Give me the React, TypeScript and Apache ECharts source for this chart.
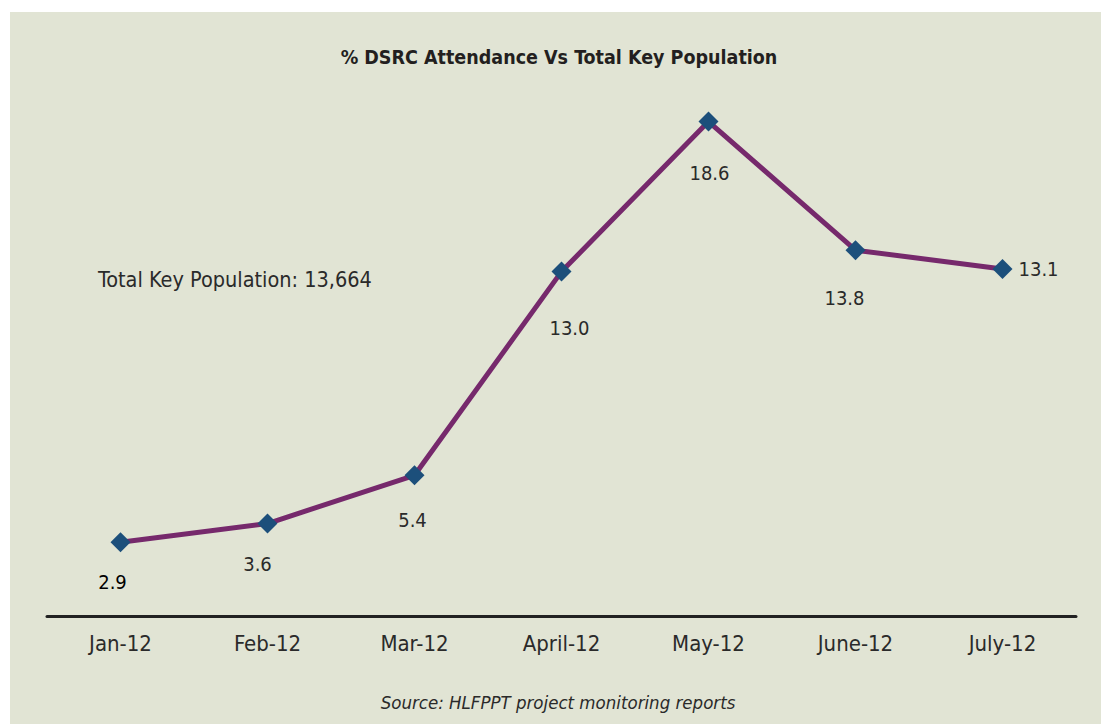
import React, { useEffect, useRef } from "react";
import * as echarts from "echarts";

const categories = ["Jan-12", "Feb-12", "Mar-12", "April-12", "May-12", "June-12", "July-12"];
const attendance = [2.9, 3.6, 5.4, 13.0, 18.6, 13.8, 13.1];
const labelTexts = ["2.9", "3.6", "5.4", "13.0", "18.6", "13.8", "13.1"];
const titleText = "% DSRC Attendance Vs Total Key Population";
const noteText = "Total Key Population: 13,664";
const sourceText = "Source: HLFPPT project monitoring reports";

const FONT = "'DejaVu Sans Condensed', 'DejaVu Sans', sans-serif";

export default function App() {
  const ref = useRef<HTMLDivElement>(null);
  useEffect(() => {
    document.body.style.margin = "0";
    const chart = echarts.init(ref.current!, null, { renderer: "svg" });
    const labelCfg: any[] = [
      { position: "bottom", distance: 20, offset: [-8, 0] },
      { position: "bottom", distance: 20, offset: [-10, 0] },
      { position: "bottom", distance: 25, offset: [-2, 0] },
      { position: "bottom", distance: 36, offset: [8, 0] },
      { position: "bottom", distance: 31, offset: [1, 0] },
      { position: "bottom", distance: 28, offset: [-11, 0] },
      { position: "right", distance: 6, offset: [0, 0] },
    ];
    chart.setOption({
      animation: false,
      backgroundColor: "#e1e4d4",
      grid: { left: 37, right: 25, top: 72, bottom: 104 },
      xAxis: {
        type: "category",
        data: categories,
        boundaryGap: true,
        offset: -4,
        axisLine: { show: true, lineStyle: { color: "#222222", width: 3 } },
        axisTick: { show: false },
        axisLabel: { color: "#2a2a2a", fontSize: 22, fontFamily: FONT, margin: 16 },
      },
      yAxis: {
        type: "value",
        min: 0,
        max: 20,
        show: false,
        splitLine: { show: false },
      },
      series: [
        {
          type: "line",
          data: attendance.map((v, i) => ({
            value: v,
            label: {
              show: true,
              formatter: labelTexts[i],
              position: labelCfg[i].position,
              distance: labelCfg[i].distance,
              offset: labelCfg[i].offset,
              color: i === 0 ? "#000000" : "#2a2a2a",
              fontSize: 20,
              fontFamily: FONT,
            },
          })),
          symbol: "diamond",
          symbolSize: 20,
          lineStyle: { color: "#76296c", width: 5 },
          itemStyle: { color: "#1c4f7b" },
        },
      ],
      graphic: [
        {
          type: "text",
          x: 549,
          y: 45,
          style: {
            text: titleText,
            align: "center",
            verticalAlign: "middle",
            fontSize: 19.5,
            fontWeight: "bold",
            fontFamily: FONT,
            fill: "#231f20",
          },
        },
        {
          type: "text",
          x: 88,
          y: 267,
          style: {
            text: noteText,
            align: "left",
            verticalAlign: "middle",
            fontSize: 21.5,
            fontFamily: FONT,
            fill: "#2a2a2a",
          },
        },
        {
          type: "text",
          x: 548,
          y: 690,
          style: {
            text: sourceText,
            align: "center",
            verticalAlign: "middle",
            fontSize: 18.5,
            fontStyle: "italic",
            fontFamily: FONT,
            fill: "#2a2a2a",
          },
        },
      ],
    });
    return () => chart.dispose();
  }, []);
  return (
    <div style={{ position: "relative", width: 1101, height: 724, background: "#ffffff" }}>
      <div ref={ref} style={{ position: "absolute", left: 10, top: 12, width: 1091, height: 712 }} />
    </div>
  );
}
